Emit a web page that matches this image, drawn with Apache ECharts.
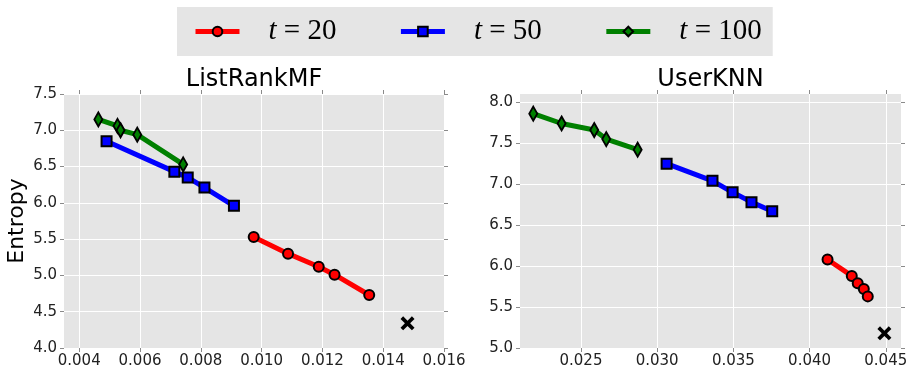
<!DOCTYPE html>
<html><head><meta charset="utf-8">
<script src="https://cdn.jsdelivr.net/npm/echarts@6/dist/echarts.min.js"></script>
<style>html,body{margin:0;padding:0;background:#fff}#c{width:914px;height:378px}</style>
</head><body><div id="c"></div>
<script>
// ---- data ----
const seriesNames = ['t=20', 't=50', 't=100'];
const panelTitles = ['ListRankMF', 'UserKNN'];

const lrmfX20  = [0.00974, 0.01087, 0.01188, 0.01240, 0.01354];
const lrmfY20  = [5.53, 5.30, 5.12, 5.01, 4.73];
const lrmfX50  = [0.00490, 0.00713, 0.00757, 0.00812, 0.00909];
const lrmfY50  = [6.85, 6.43, 6.35, 6.21, 5.96];
const lrmfX100 = [0.00463, 0.00526, 0.00536, 0.00591, 0.00742];
const lrmfY100 = [7.15, 7.06, 7.00, 6.94, 6.53];
const lrmfBase = [0.0148, 4.34];

const uknnX20  = [0.04118, 0.04277, 0.04316, 0.04356, 0.04382];
const uknnY20  = [6.08, 5.88, 5.79, 5.72, 5.63];
const uknnX50  = [0.03062, 0.03363, 0.03495, 0.03619, 0.03755];
const uknnY50  = [7.25, 7.04, 6.90, 6.78, 6.67];
const uknnX100 = [0.02187, 0.02373, 0.02587, 0.02666, 0.02872];
const uknnY100 = [7.86, 7.74, 7.66, 7.55, 7.42];
const uknnBase = [0.04491, 5.18];

const lrmfXTicks = [0.004, 0.006, 0.008, 0.010, 0.012, 0.014, 0.016];
const lrmfYTicks = [4.0, 4.5, 5.0, 5.5, 6.0, 6.5, 7.0, 7.5];
const uknnXTicks = [0.025, 0.030, 0.035, 0.040, 0.045];
const uknnYTicks = [5.0, 5.5, 6.0, 6.5, 7.0, 7.5, 8.0];

// ---- chart ----
const zip = (xs, ys) => xs.map((x, i) => [x, ys[i]]);
const FONT = 'DejaVu Sans';
const tickStyle = { show: true, inside: false, length: 4, lineStyle: { color: '#8a8a8a', width: 1 } };

function axis(kind, grid, min, max, ticks, position, main, fmt, extra) {
  return Object.assign({
    type: 'value', gridIndex: grid, min: min, max: max, position: position,
    axisLine: { show: false },
    axisTick: Object.assign({ customValues: ticks }, tickStyle),
    axisLabel: { show: main, customValues: ticks, formatter: v => v.toFixed(fmt),
      fontFamily: FONT, fontSize: 15, color: '#222', margin: kind === 'x' ? 6 : 7 },
    splitLine: { show: main, lineStyle: { color: '#ffffff', width: 1 } }
  }, extra || {});
}

const styles = {
  't=20':  { color: '#ff0000', symbol: 'circle', size: 10 },
  't=50':  { color: '#0000ff', symbol: 'rect', size: 10 },
  't=100': { color: '#008000', symbol: 'diamond', size: [8, 14] }
};
function line(name, xs, ys, xi, yi) {
  const s = styles[name];
  return {
    name: name, type: 'line', xAxisIndex: xi, yAxisIndex: yi, data: zip(xs, ys),
    symbol: s.symbol, symbolSize: s.size, showSymbol: true,
    lineStyle: { color: s.color, width: 5 },
    itemStyle: { color: s.color, borderColor: '#000', borderWidth: 2 },
    emphasis: { disabled: true }, animation: false, z: 3
  };
}
const crossPath = 'path://M0,3 L3,0 L8,5 L13,0 L16,3 L11,8 L16,13 L13,16 L8,11 L3,16 L0,13 L5,8 Z';
function base(pt, xi, yi) {
  return { name: 'base', type: 'scatter', xAxisIndex: xi, yAxisIndex: yi, data: [pt],
    symbol: crossPath, symbolSize: 14, itemStyle: { color: '#000', opacity: 1 },
    emphasis: { disabled: true }, animation: false, z: 4 };
}

const option = {
  backgroundColor: '#ffffff',
  animation: false,
  grid: [
    { left: 64, right: 470, top: 94, bottom: 30, show: true, backgroundColor: '#e5e5e5', borderWidth: 0 },
    { left: 520, right: 13, top: 94, bottom: 30, show: true, backgroundColor: '#e5e5e5', borderWidth: 0 }
  ],
  xAxis: [
    axis('x', 0, 0.0035, 0.016, lrmfXTicks, 'bottom', true, 3),
    axis('x', 1, 0.021, 0.046, uknnXTicks, 'bottom', true, 3),
    axis('x', 0, 0.0035, 0.016, lrmfXTicks, 'top', false, 3, {
      name: panelTitles[0], nameLocation: 'middle', nameGap: 2,
      nameTextStyle: { fontFamily: FONT, fontSize: 24, color: '#000' } }),
    axis('x', 1, 0.021, 0.046, uknnXTicks, 'top', false, 3, {
      name: panelTitles[1], nameLocation: 'middle', nameGap: 2,
      nameTextStyle: { fontFamily: FONT, fontSize: 24, color: '#000' } })
  ],
  yAxis: [
    axis('y', 0, 4.0, 7.5, lrmfYTicks, 'left', true, 1, {
      name: 'Entropy', nameLocation: 'middle', nameGap: 36,
      nameTextStyle: { fontFamily: FONT, fontSize: 22, color: '#000' } }),
    axis('y', 1, 5.0, 8.1, uknnYTicks, 'left', true, 1),
    axis('y', 0, 4.0, 7.5, lrmfYTicks, 'right', false, 1),
    axis('y', 1, 5.0, 8.1, uknnYTicks, 'right', false, 1)
  ],
  legend: {
    data: seriesNames, left: 177, top: 7,
    padding: [10, 11, 10, 16], itemGap: 62, itemWidth: 44, itemHeight: 12,
    backgroundColor: '#e5e5e5', borderWidth: 0, selectedMode: false,
    lineStyle: { width: 5 },
    formatter: n => '{i|t}{e| = }{n|' + n.split('=')[1] + '}',
    textStyle: {
      padding: [0, 0, 0, 24],
      rich: {
        i: { fontFamily: 'Liberation Serif', fontStyle: 'italic', fontSize: 29, color: '#000' },
        e: { fontFamily: 'Liberation Serif', fontSize: 29, color: '#000' },
        n: { fontFamily: 'Liberation Serif', fontSize: 29, color: '#000' }
      }
    }
  },
  series: [
    line('t=20', lrmfX20, lrmfY20, 0, 0),
    line('t=50', lrmfX50, lrmfY50, 0, 0),
    line('t=100', lrmfX100, lrmfY100, 0, 0),
    base(lrmfBase, 0, 0),
    line('t=20', uknnX20, uknnY20, 1, 1),
    line('t=50', uknnX50, uknnY50, 1, 1),
    line('t=100', uknnX100, uknnY100, 1, 1),
    base(uknnBase, 1, 1)
  ]
};
const chart = echarts.init(document.getElementById('c'), null, { renderer: 'canvas' });
chart.setOption(option);
</script>
</body></html>
